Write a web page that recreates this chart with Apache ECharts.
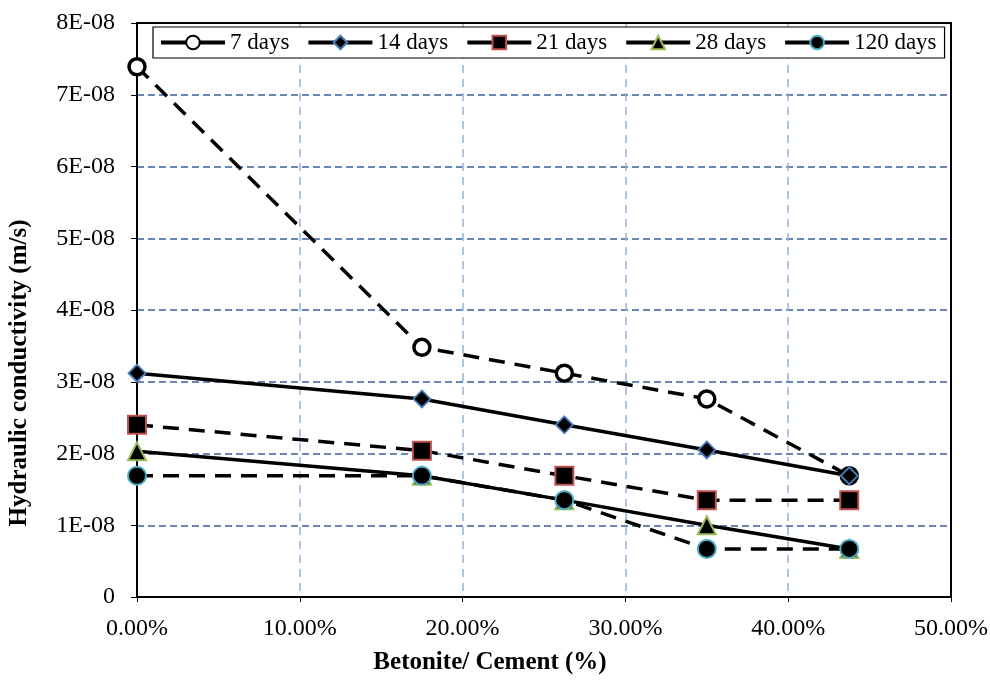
<!DOCTYPE html>
<html>
<head>
<meta charset="utf-8">
<script src="https://cdn.jsdelivr.net/npm/echarts@6/dist/echarts.min.js"></script>
<style>html,body{margin:0;padding:0;background:#fff}#c{width:990px;height:680px}</style>
</head>
<body>
<div id="c"></div>
<script>
const ratios = [0, 0.175, 0.2625, 0.35, 0.4375];
const days7 = [7.39e-8, 3.48e-8, 3.12e-8, 2.76e-8, 1.69e-8];
const days14 = [3.12e-8, 2.76e-8, 2.40e-8, 2.05e-8, 1.69e-8];
const days21 = [2.40e-8, 2.04e-8, 1.69e-8, 1.35e-8, 1.35e-8];
const days28 = [2.03e-8, 1.69e-8, 1.35e-8, 1.00e-8, 0.67e-8];
const days120 = [1.69e-8, 1.69e-8, 1.35e-8, 0.67e-8, 0.67e-8];
const seriesNames = ['7 days', '14 days', '21 days', '28 days', '120 days'];
const xTitle = 'Betonite/ Cement (%)';
const yTitle = 'Hydraulic conductivity (m/s)';

const font = '"Liberation Serif","Times New Roman",serif';
const pairs = v => ratios.map((x, i) => [x, v[i]]);
const dash = [16, 10];

function mk(name, data, dashed, symbol, size, fill, border, bw) {
  return {
    name, type: 'line', data: pairs(data),
    symbol, symbolSize: size,
    lineStyle: { color: '#000', width: 3.5, type: dashed ? dash : 'solid' },
    itemStyle: { color: fill, borderColor: border, borderWidth: bw, opacity: 1 },
    emphasis: { disabled: true },
    animation: false
  };
}

const chart = echarts.init(document.getElementById('c'), null, { renderer: 'canvas' });
chart.setOption({
  backgroundColor: '#fff',
  animation: false,
  grid: { left: 137, right: 39, top: 23, bottom: 83, containLabel: false, outerBoundsMode: 'none',
    show: true, borderColor: '#000', borderWidth: 2, backgroundColor: 'transparent', z: 3 },
  legend: {
    data: seriesNames,
    left: 153, top: 27,
    padding: [4, 8, 4, 6],
    itemGap: 17,
    itemWidth: 64, itemHeight: 17,
    backgroundColor: '#fff',
    borderColor: '#000', borderWidth: 1.2,
    lineStyle: { width: 4, type: 'solid' },
    textStyle: { fontFamily: font, fontSize: 23, color: '#000' }
  },
  graphic: [
    { type: 'text', x: 490, y: 663, style: { text: xTitle, font: 'bold 25px ' + font, fill: '#000', align: 'center', verticalAlign: 'middle' } },
    { type: 'text', x: 20, y: 373, rotation: Math.PI / 2, style: { text: yTitle, font: 'bold 25px ' + font, fill: '#000', align: 'center', verticalAlign: 'middle' } }
  ],
  xAxis: {
    type: 'value', min: 0, max: 0.5, interval: 0.1,
    axisLine: { show: true, onZero: false, lineStyle: { color: '#000', width: 2 } },
    axisTick: { show: true, length: 5, lineStyle: { color: '#000' } },
    axisLabel: { fontFamily: font, fontSize: 24, color: '#000', margin: 20,
      formatter: v => (v * 100).toFixed(2) + '%' },
    splitLine: { show: true, lineStyle: { color: '#95b3d7', type: [8, 6], width: 1.5 } }
  },
  yAxis: {
    type: 'value', min: 0, max: 8e-8, interval: 1e-8,
    axisLine: { show: true, lineStyle: { color: '#000', width: 2 } },
    axisTick: { show: true, length: 6, lineStyle: { color: '#000' } },
    axisLabel: { fontFamily: font, fontSize: 24, color: '#000', margin: 22,
      formatter: v => { const n = Math.round(v / 1e-8); return n === 0 ? '0' : n + 'E-08'; } },
    splitLine: { show: true, lineStyle: { color: '#3a62a0', type: [7, 4], width: 1.5 } }
  },
  series: [
    mk(seriesNames[0], days7, true, 'circle', 16, '#fff', '#000', 3.5),
    mk(seriesNames[1], days14, false, 'diamond', 17, '#000', '#4a7ebb', 1.8),
    mk(seriesNames[2], days21, true, 'rect', 18, '#000', '#c0504d', 2),
    mk(seriesNames[3], days28, false, 'triangle', 18, '#000', '#9bbb59', 2),
    mk(seriesNames[4], days120, true, 'circle', 18, '#000', '#4bacc6', 2)
  ]
});
</script>
</body>
</html>
